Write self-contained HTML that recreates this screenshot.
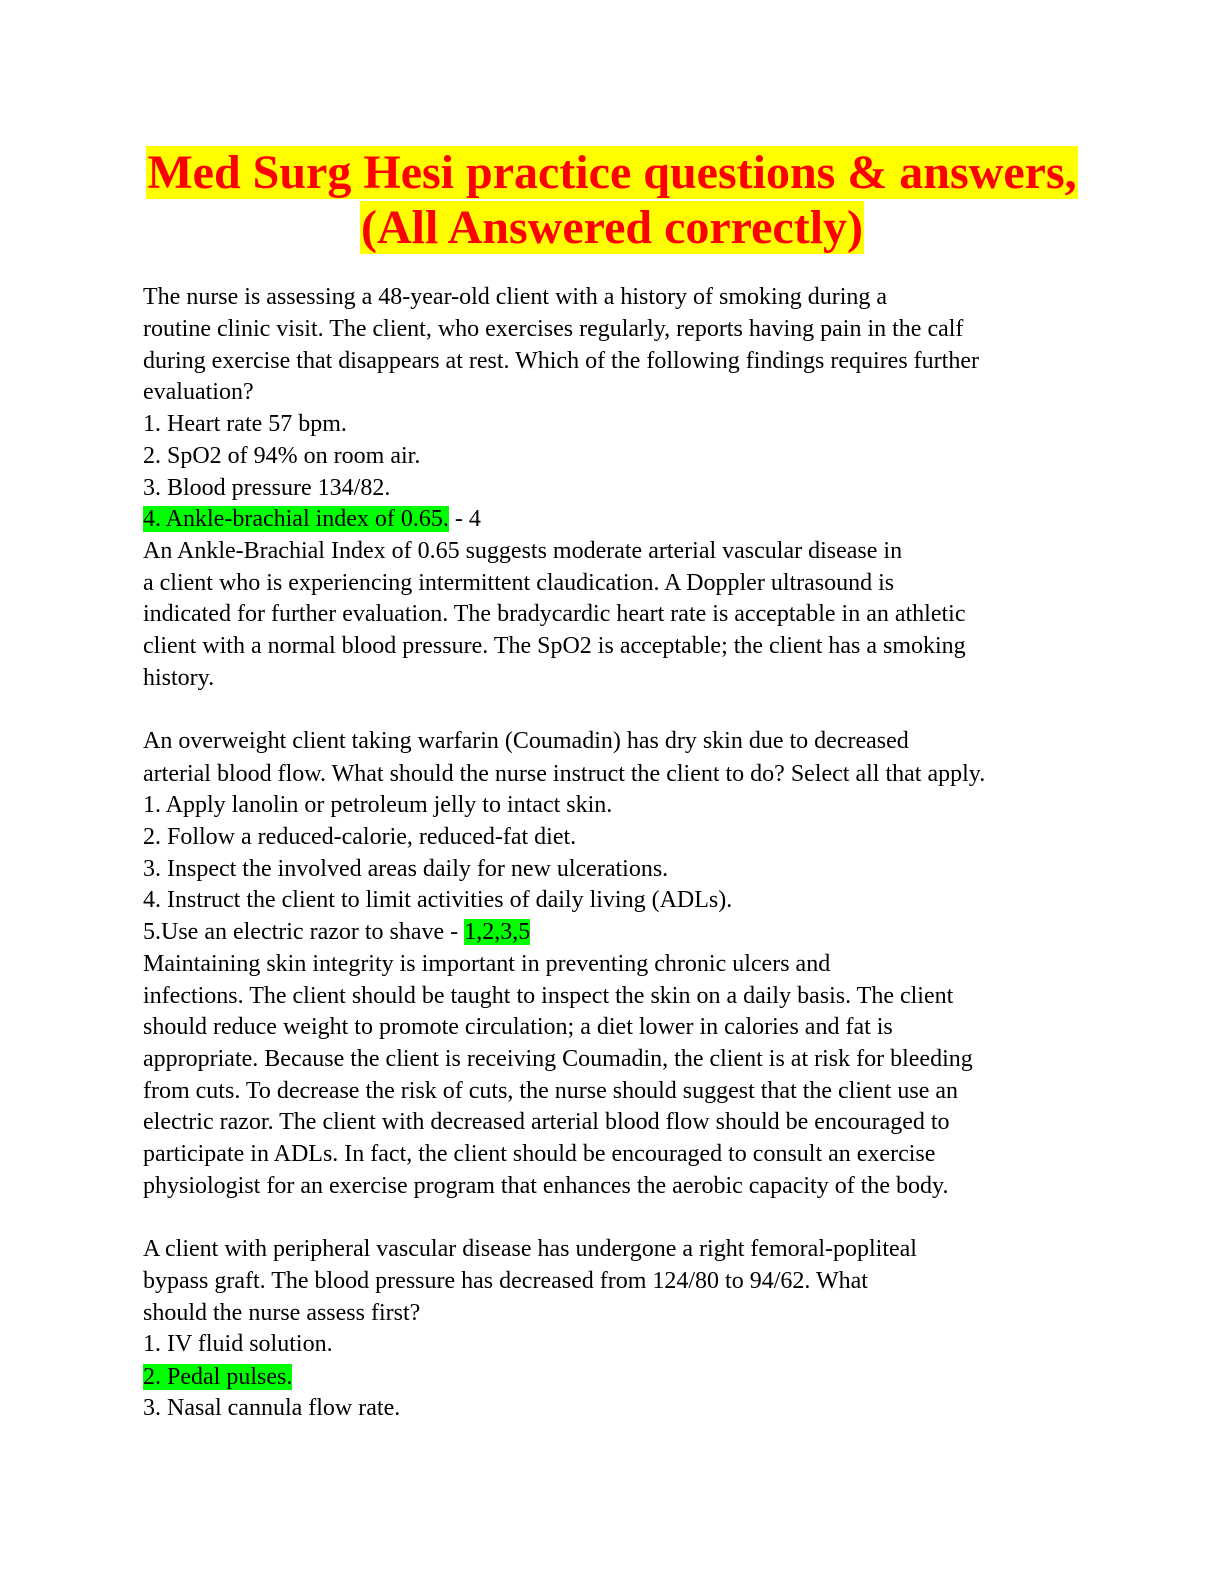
<!DOCTYPE html>
<html><head><meta charset="utf-8"><style>
body{margin:0;background:#fff;width:1224px;height:1584px;position:relative;overflow:hidden}
.t{position:absolute;left:0;width:1224px;text-align:center;font-family:"Liberation Serif",serif;font-weight:bold;font-size:48px;color:#f00;line-height:54px}
.t span{background:#ff0;padding:0 1px}
.l{position:absolute;left:143px;font-family:"Liberation Serif",serif;font-size:24px;color:#000;white-space:nowrap;line-height:28px}
.g{background:#00ff00}
</style></head><body>
<div class="t" style="top:146px"><span>Med Surg Hesi practice questions &amp; answers,</span></div>
<div class="t" style="top:201px"><span>(All Answered correctly)</span></div>
<div class="l" style="top:283px">The nurse is assessing a 48-year-old client with a history of smoking during a</div>
<div class="l" style="top:315px">routine clinic visit. The client, who exercises regularly, reports having pain in the calf</div>
<div class="l" style="top:347px">during exercise that disappears at rest. Which of the following findings requires further</div>
<div class="l" style="top:378px">evaluation?</div>
<div class="l" style="top:410px">1. Heart rate 57 bpm.</div>
<div class="l" style="top:442px">2. SpO2 of 94% on room air.</div>
<div class="l" style="top:474px">3. Blood pressure 134/82.</div>
<div class="l" style="top:505px"><span class="g">4. Ankle-brachial index of 0.65.</span> - 4</div>
<div class="l" style="top:537px">An Ankle-Brachial Index of 0.65 suggests moderate arterial vascular disease in</div>
<div class="l" style="top:569px">a client who is experiencing intermittent claudication. A Doppler ultrasound is</div>
<div class="l" style="top:600px">indicated for further evaluation. The bradycardic heart rate is acceptable in an athletic</div>
<div class="l" style="top:632px">client with a normal blood pressure. The SpO2 is acceptable; the client has a smoking</div>
<div class="l" style="top:664px">history.</div>
<div class="l" style="top:727px">An overweight client taking warfarin (Coumadin) has dry skin due to decreased</div>
<div class="l" style="top:760px">arterial blood flow. What should the nurse instruct the client to do? Select all that apply.</div>
<div class="l" style="top:791px">1. Apply lanolin or petroleum jelly to intact skin.</div>
<div class="l" style="top:823px">2. Follow a reduced-calorie, reduced-fat diet.</div>
<div class="l" style="top:855px">3. Inspect the involved areas daily for new ulcerations.</div>
<div class="l" style="top:886px">4. Instruct the client to limit activities of daily living (ADLs).</div>
<div class="l" style="top:918px">5.Use an electric razor to shave - <span class="g">1,2,3,5</span></div>
<div class="l" style="top:950px">Maintaining skin integrity is important in preventing chronic ulcers and</div>
<div class="l" style="top:982px">infections. The client should be taught to inspect the skin on a daily basis. The client</div>
<div class="l" style="top:1013px">should reduce weight to promote circulation; a diet lower in calories and fat is</div>
<div class="l" style="top:1045px">appropriate. Because the client is receiving Coumadin, the client is at risk for bleeding</div>
<div class="l" style="top:1077px">from cuts. To decrease the risk of cuts, the nurse should suggest that the client use an</div>
<div class="l" style="top:1108px">electric razor. The client with decreased arterial blood flow should be encouraged to</div>
<div class="l" style="top:1140px">participate in ADLs. In fact, the client should be encouraged to consult an exercise</div>
<div class="l" style="top:1172px">physiologist for an exercise program that enhances the aerobic capacity of the body.</div>
<div class="l" style="top:1235px">A client with peripheral vascular disease has undergone a right femoral-popliteal</div>
<div class="l" style="top:1267px">bypass graft. The blood pressure has decreased from 124/80 to 94/62. What</div>
<div class="l" style="top:1299px">should the nurse assess first?</div>
<div class="l" style="top:1330px">1. IV fluid solution.</div>
<div class="l" style="top:1363px"><span class="g">2. Pedal pulses.</span></div>
<div class="l" style="top:1394px">3. Nasal cannula flow rate.</div>
</body></html>
